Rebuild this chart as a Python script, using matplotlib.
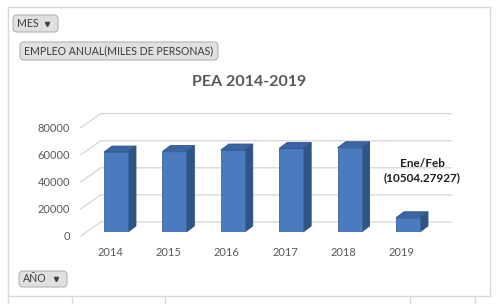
import matplotlib.pyplot as plt
from matplotlib.patches import Polygon, FancyBboxPatch
from matplotlib.lines import Line2D
from matplotlib.transforms import IdentityTransform, ScaledTranslation
import numpy as np

plt.rcParams['font.family'] = ['Lato', 'DejaVu Sans']

years = ['2014', '2015', '2016', '2017', '2018', '2019']
pea = [59000, 59400, 60500, 61700, 62200, 10504.27927]
y_ticks = [0, 20000, 40000, 60000, 80000]
title = 'PEA 2014-2019'
note = 'Ene/Feb\n(10504.27927)'
field_buttons = ['MES', 'EMPLEO ANUAL(MILES DE PERSONAS)', 'AÑO']

W, H = 496, 306
fig = plt.figure(figsize=(W / 100, H / 100), dpi=100)
ident = IdentityTransform()

def px(x, y):
    # pixel from top-left -> display coords
    return x, H - y

# axes = front plane of the bars
ax = fig.add_axes([86.8 / W, (H - 232) / H, 350.4 / W, 108.4 / H])
ax.set_xlim(-0.5, 5.5)
ax.set_ylim(0, 80000)
for s in ax.spines.values():
    s.set_visible(False)
ax.patch.set_visible(False)

back = np.array([14, 10])     # offset of back wall (display px)
front = np.array([-6, -4])    # offset of label plane
depth = np.array([8, 6])      # bar depth

grid_c = '#d9d9d9'
for v in y_ticks:
    p0 = ax.transData.transform((-0.5, v))
    p1 = ax.transData.transform((5.5, v))
    pts = np.array([p0 + front, p0 + back, p1 + back])
    ax.add_line(Line2D(pts[:, 0], pts[:, 1], color=grid_c, lw=1,
                       transform=ident, clip_on=False, zorder=1))

bw = 0.41
x = np.arange(len(years))
ax.bar(x, pea, width=bw, color='#4a7bbf', edgecolor='#3a66a3', lw=0.6, zorder=3)
for xi, v in zip(x, pea):
    bl = ax.transData.transform((xi - bw / 2, v))
    br = ax.transData.transform((xi + bw / 2, v))
    b0 = ax.transData.transform((xi + bw / 2, 0))
    top = [bl, br, br + depth, bl + depth]
    side = [b0, br, br + depth, b0 + depth]
    ax.add_patch(Polygon(side, closed=True, facecolor='#2f5587', edgecolor='#2a4c7a',
                         lw=0.6, transform=ident, clip_on=False, zorder=2))
    ax.add_patch(Polygon(top, closed=True, facecolor='#3b65a5', edgecolor='#2f5587',
                         lw=0.6, transform=ident, clip_on=False, zorder=4))

ax.set_yticks(y_ticks)
ax.set_yticklabels([str(t) for t in y_ticks])
ax.set_xticks(x)
ax.set_xticklabels(years)
ax.tick_params(length=0, labelsize=8, labelcolor='#595959')
ax.tick_params(axis='y', pad=7.8)
ax.tick_params(axis='x', pad=8)
shift = ScaledTranslation(-6 / 100, -4 / 100, fig.dpi_scale_trans)
for lab in ax.get_yticklabels() + ax.get_xticklabels():
    lab.set_transform(lab.get_transform() + shift)

fig.text(249 / W, (H - 82) / H, title, ha='center', va='center', fontsize=11.5,
         fontweight='bold', color='#595959')
fig.text(422 / W, (H - 171) / H, note, ha='center', va='center', fontsize=8.5,
         fontweight='bold', color='#1f1f1f', linespacing=1.35)

# chart frame
frame = [((8, 7), (490, 7)), ((8, 7), (8, 296)), ((490, 7), (490, 296)), ((8, 296), (490, 296))]
for a, b in frame:
    (x0, y0), (x1, y1) = px(*a), px(*b)
    fig.add_artist(Line2D([x0, x1], [y0, y1], color='#d9d9d9', lw=1, transform=ident))
for tx in [8, 72, 165, 410, 475]:
    (x0, y0), (x1, y1) = px(tx, 296), px(tx, 303)
    fig.add_artist(Line2D([x0, x1], [y0, y1], color='#d9d9d9', lw=1, transform=ident))

# field buttons
boxes = [(13, 15, 45, 17, True), (20, 42, 198, 18, False), (19, 271, 48, 16, True)]
for (bx, by, bwid, bh, arrow), label in zip(boxes, field_buttons):
    x0, y0 = px(bx, by + bh)
    fig.add_artist(FancyBboxPatch((x0, y0), bwid, bh, boxstyle='round,pad=0,rounding_size=4',
                                  facecolor='#e0e0e0', edgecolor='#b3b3b3', lw=0.8,
                                  transform=ident))
    tx, ty = px(bx + 4, by + bh / 2)
    fig.text(tx, ty, label, ha='left', va='center', fontsize=7.6, color='#3a3a3a',
             transform=ident)
    if arrow:
        ax_, ay_ = px(bx + bwid - 11, by + bh / 2)
        fig.add_artist(Line2D([ax_], [ay_], marker='v', markersize=3, color='#404040',
                              lw=0, transform=ident))

fig.savefig('out.png', dpi=100, facecolor='white')
